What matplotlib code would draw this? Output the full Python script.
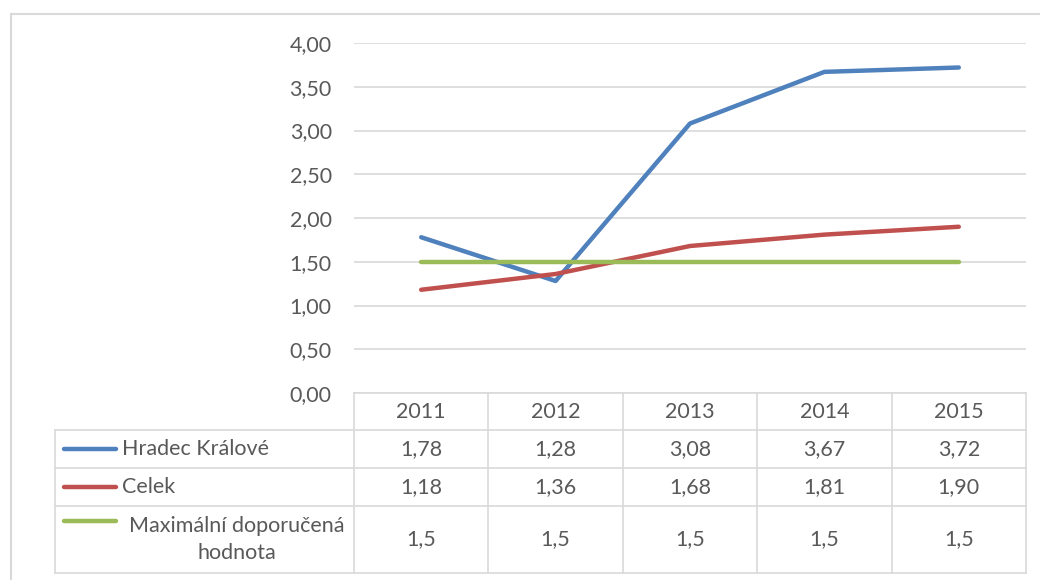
import matplotlib
matplotlib.use("Agg")
import matplotlib.pyplot as plt
from matplotlib.lines import Line2D

plt.rcParams["font.family"] = ["Lato", "DejaVu Sans"]

years = ["2011", "2012", "2013", "2014", "2015"]
series_names = ["Hradec Králové", "Celek", "Maximální doporučená\nhodnota"]
hradec = [1.78, 1.28, 3.08, 3.67, 3.72]
celek = [1.18, 1.36, 1.68, 1.81, 1.90]
maximum = [1.5, 1.5, 1.5, 1.5, 1.5]
table_text = [
    ["1,78", "1,28", "3,08", "3,67", "3,72"],
    ["1,18", "1,36", "1,68", "1,81", "1,90"],
    ["1,5", "1,5", "1,5", "1,5", "1,5"],
]
colors = ["#4F81BD", "#C0504D", "#9BBB59"]
yticks = [0, 0.5, 1, 1.5, 2, 2.5, 3, 3.5, 4]

W, H = 1040, 580
GRID = "#D9D9D9"
TXT = "#595959"
FS = 15.5
COL = 134.4  # px per year column

fig = plt.figure(figsize=(W / 100, H / 100), dpi=100)

# outer chart frame (only top and left visible)
fig.add_artist(Line2D([11 / W, 1.0], [1 - 14 / H, 1 - 14 / H], color=GRID, lw=1.5))
fig.add_artist(Line2D([11 / W, 11 / W], [1 - 14 / H, 0.0], color=GRID, lw=1.5))

# plot area
ax = fig.add_axes([354 / W, 1 - 393 / H, (1026 - 354) / W, (393 - 43) / H])
x = range(len(years))
for vals, c in zip([hradec, celek, maximum], colors):
    ax.plot(x, vals, color=c, lw=3.2, solid_capstyle="round", zorder=3)
ax.set_xlim(-0.5, 4.5)
ax.set_ylim(0, 4)
ax.set_yticks(yticks)
ax.set_yticklabels([f"{v:.2f}".replace(".", ",") for v in yticks])
ax.tick_params(axis="y", length=0, pad=16, labelsize=FS, labelcolor=TXT)
ax.set_xticks([])
ax.grid(axis="y", color=GRID, lw=1.2)
ax.set_axisbelow(True)
for s in ax.spines.values():
    s.set_visible(False)

# data table below the plot
tax = fig.add_axes([55 / W, 1 - 573 / H, (1026 - 55) / W, (573 - 393) / H])
left = -0.5 - (354 - 55) / COL
tax.set_xlim(left, 4.5)
tax.set_ylim(180, 0)
tax.axis("off")
rows = [0, 37, 75, 113, 180]
lkw = dict(color=GRID, lw=1.2, clip_on=False)
tax.plot([-0.5, 4.5], [rows[0], rows[0]], **lkw)
for r in rows[1:]:
    tax.plot([left, 4.5], [r, r], **lkw)
tax.plot([left, left], [rows[1], rows[-1]], **lkw)
for i in range(len(years) + 1):
    tax.plot([i - 0.5, i - 0.5], [rows[0], rows[-1]], **lkw)

for i, yr in enumerate(years):
    tax.text(i, (rows[0] + rows[1]) / 2, yr, ha="center", va="center",
             fontsize=FS, color=TXT)
for r, (name, c, texts) in enumerate(zip(series_names, colors, table_text)):
    ymid = (rows[r + 1] + rows[r + 2]) / 2
    for i, t in enumerate(texts):
        tax.text(i, ymid, t, ha="center", va="center", fontsize=FS, color=TXT)
    if "\n" in name:
        ly = rows[r + 1] + 15
        tax.text(left + 182 / COL, ymid, name, ha="center", va="center",
                 fontsize=FS, color=TXT, multialignment="center", linespacing=1.45)
    else:
        ly = ymid
        tax.text(left + 67 / COL, ymid, name, ha="left", va="center",
                 fontsize=FS, color=TXT)
    tax.plot([left + 9 / COL, left + 61 / COL], [ly, ly], color=c, lw=3.2,
             solid_capstyle="round", clip_on=False)

fig.savefig("out.png", dpi=100)
